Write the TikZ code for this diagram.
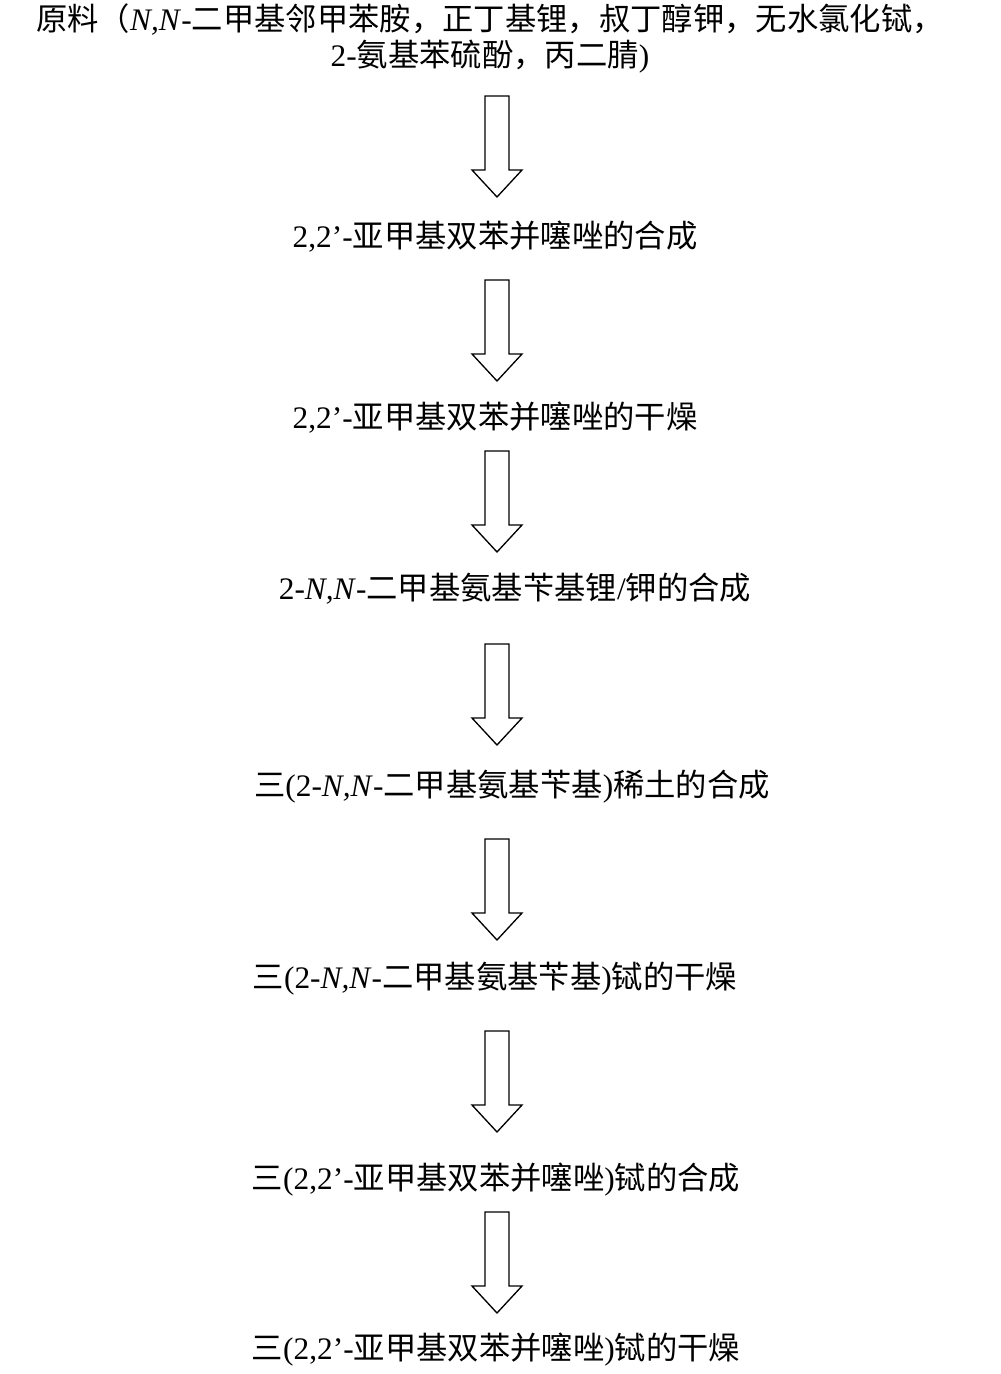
\documentclass[tikz,border=0pt]{standalone}
\usepackage{fontspec}
\setmainfont{Liberation Serif}
\newfontfamily\cjk{Noto Sans CJK SC}[Scale=1.0]
\newcommand{\zh}[1]{{\cjk #1}}
\begin{document}
\begin{tikzpicture}[x=0.75pt,y=-0.75pt,
  lab/.style={font=\fontsize{23.5}{27}\selectfont,inner sep=0pt,align=center},
  pics/harrow/.style={code={\draw[line width=1pt,line join=miter]
   (-12,0)--(12,0)--(12,74)--(25,74)--(0,101)--(-25,74)--(-12,74)--cycle;}}]
\useasboundingbox (0,0) rectangle (1000,1374);
\node[lab] (t0) at (490,38) {\zh{原料（}\textit{N,N}-\zh{二甲基邻甲苯胺，正丁基锂，叔丁醇钾，无水氯化铽，}\\2-\zh{氨基苯硫酚，丙二腈})};
\node[lab] (t1) at (495,237) {2,2’-\zh{亚甲基双苯并噻唑的合成}};
\node[lab] (t2) at (495,418) {2,2’-\zh{亚甲基双苯并噻唑的干燥}};
\node[lab] (t3) at (515,589) {2-\textit{N,N}-\zh{二甲基氨基苄基锂}/\zh{钾的合成}};
\node[lab] (t4) at (512,787) {\zh{三}(2-\textit{N,N}-\zh{二甲基氨基苄基})\zh{稀土的合成}};
\node[lab] (t5) at (495,979) {\zh{三}(2-\textit{N,N}-\zh{二甲基氨基苄基})\zh{铽的干燥}};
\node[lab] (t6) at (496,1180) {\zh{三}(2,2’-\zh{亚甲基双苯并噻唑})\zh{铽的合成}};
\node[lab] (t7) at (496,1350) {\zh{三}(2,2’-\zh{亚甲基双苯并噻唑})\zh{铽的干燥}};
\coordinate (a1) at (497,96);
\coordinate (a2) at (497,280);
\coordinate (a3) at (497,451);
\coordinate (a4) at (497,644);
\coordinate (a5) at (497,839);
\coordinate (a6) at (497,1031);
\coordinate (a7) at (497,1212);
\foreach \a in {a1,a2,a3,a4,a5,a6,a7} \pic at (\a) {harrow};
\end{tikzpicture}
\end{document}
